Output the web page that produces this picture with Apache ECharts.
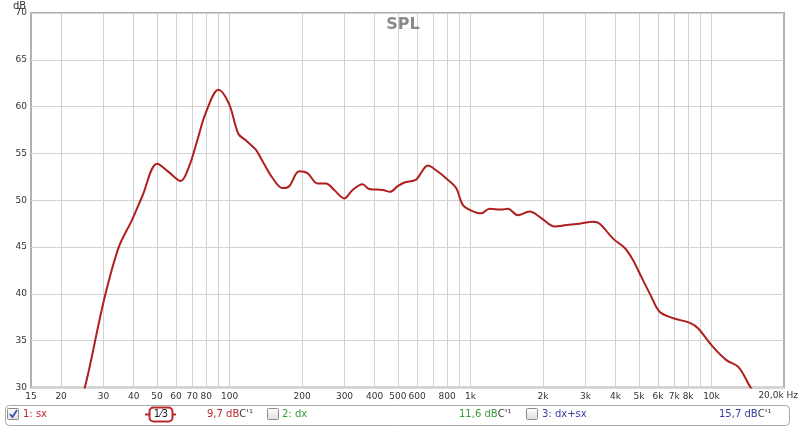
<!DOCTYPE html>
<html><head><meta charset="utf-8">
<script src="https://cdn.jsdelivr.net/npm/echarts@6/dist/echarts.min.js"></script>
<style>html,body{margin:0;padding:0;background:#fff}#c{width:800px;height:428px}</style>
</head><body><div id="c"></div>
<script>
// Frequency response (Hz) and SPL (dB)
const freqs = [24, 25.1, 30.1, 34.7, 39.4, 43.4, 50.1, 56.0, 62.7, 67.9, 73.5, 79.6, 90.0, 99.5, 108.8, 116.8, 128.5, 136.9, 150.6, 165.8, 176.8, 194.5, 210.6, 231.7, 251.2, 271.9, 299.3, 324.1, 356.5, 380.2, 431.7, 463.5, 498.7, 531.6, 594.7, 633.6, 664.7, 719.9, 804.5, 872, 929, 1007, 1108, 1199, 1342, 1429, 1573, 1758, 1967, 2235, 2500, 2839, 3225, 3437, 3905, 4367, 4729, 5030, 5630, 6090, 6960, 8140, 8810, 10100, 11570, 12920, 14450, 14900];
const spl = [29.2, 30.0, 39.3, 45.0, 47.9, 50.4, 53.9, 53.0, 52.05, 53.6, 56.4, 59.3, 61.8, 60.3, 57.1, 56.4, 55.4, 54.2, 52.4, 51.3, 51.5, 53.1, 52.9, 51.8, 51.8, 51.1, 50.2, 51.1, 51.7, 51.2, 51.1, 50.9, 51.5, 51.9, 52.2, 53.2, 53.7, 53.2, 52.2, 51.3, 49.5, 48.9, 48.6, 49.1, 49.0, 49.1, 48.4, 48.8, 48.1, 47.2, 47.35, 47.5, 47.7, 47.5, 45.9, 44.9, 43.6, 42.2, 39.7, 38.1, 37.4, 36.9, 36.3, 34.4, 32.9, 32.2, 30.1, 29.5];

// Axis ticks
const gridFreqs = [20,30,40,50,60,70,80,90,100,200,300,400,500,600,700,800,900,1000,2000,3000,4000,5000,6000,7000,8000,9000,10000];
const labelFreqs = [15,20,30,40,50,60,70,80,100,200,300,400,500,600,800,1000,2000,3000,4000,5000,6000,7000,8000,10000];
const labelTexts = ['15','20','30','40','50','60','70','80','100','200','300','400','500','600','800','1k','2k','3k','4k','5k','6k','7k','8k','10k'];
const xMinHz = 15, xMaxHz = 20000;
const yMin = 30, yMax = 70, yStep = 5;

// Legend texts
const legendNames = ['1: sx', '2: dx', '3: dx+sx'];
const legendValues = ['9,7 dB', '11,6 dB', '15,7 dB'];
const legendColors = ['#b8282c', '#3a9a3a', '#3a3aa6'];

const L = Math.log10;
const FONT = 'DejaVu Sans';
const chart = echarts.init(document.getElementById('c'));

function checkbox(x, y, checked) {
  const ch = [{type:'rect', shape:{x:x, y:y, width:11, height:11, r:1},
    style:{fill:new echarts.graphic.LinearGradient(0,0,0,1,[{offset:0,color:'#ffffff'},{offset:1,color:'#dedede'}]), stroke:'#8c8c8c', lineWidth:1}}];
  if (checked) ch.push({type:'polyline', shape:{points:[[x+2.5,y+5.5],[x+5,y+8.5],[x+9.5,y+1.5]]},
    style:{stroke:'#2f55a8', lineWidth:1.8, fill:null}});
  return ch;
}
function valText(x, txt, col) {
  return {type:'text', x:x, y:414, style:{text:'{a|'+txt+'}{b|C\'¹}', rich:{a:{fill:col, fontSize:10, fontFamily:FONT}, b:{fill:'#444', fontSize:10, fontFamily:FONT}}, verticalAlign:'middle'}};
}

const graphics = [
  {type:'rect', shape:{x:5.5, y:405.5, width:784, height:20, r:4}, style:{fill:'#fff', stroke:'#a8a8a8', lineWidth:1}},
  ...checkbox(7.5, 408.5, true),
  {type:'text', x:23, y:414, style:{text:legendNames[0], fill:legendColors[0], fontSize:10, fontFamily:FONT, verticalAlign:'middle'}},
  {type:'line', shape:{x1:145, y1:414.5, x2:176, y2:414.5}, style:{stroke:'#b8282c', lineWidth:2}},
  {type:'rect', shape:{x:149.5, y:407.5, width:23, height:14, r:4}, style:{fill:'#fff', stroke:'#b8282c', lineWidth:2}},
  {type:'text', x:161, y:414.5, style:{text:'1⁄3', fill:'#222', fontSize:10, fontFamily:FONT, align:'center', verticalAlign:'middle'}},
  valText(207, legendValues[0], legendColors[0]),
  ...checkbox(267.5, 408.5, false),
  {type:'text', x:282, y:414, style:{text:legendNames[1], fill:legendColors[1], fontSize:10, fontFamily:FONT, verticalAlign:'middle'}},
  valText(459, legendValues[1], legendColors[1]),
  ...checkbox(526.5, 408.5, false),
  {type:'text', x:542, y:414, style:{text:legendNames[2], fill:legendColors[2], fontSize:10, fontFamily:FONT, verticalAlign:'middle'}},
  valText(719, legendValues[2], legendColors[2]),
  {type:'text', x:798, y:396, style:{text:'20,0k Hz', fill:'#333', fontSize:9, fontFamily:FONT, align:'right', verticalAlign:'middle'}},
  {type:'text', x:13, y:6, style:{text:'dB', fill:'#333', fontSize:10, fontFamily:FONT, verticalAlign:'middle'}}
];

chart.setOption({
  animation: false,
  backgroundColor: '#fff',
  title: {text:'SPL', left:398, textAlign:'center', top:12, textStyle:{fontSize:16, fontWeight:'bold', color:'#8a8a8a', fontFamily:FONT}},
  grid: {left:31, right:16, top:13, bottom:40.5, show:true, borderColor:'#b0b0b0', borderWidth:2, backgroundColor:'#fff'},
  xAxis: {
    type:'value', min:L(xMinHz), max:L(xMaxHz),
    axisLine:{show:false},
    axisTick:{show:false, customValues: gridFreqs.map(L)},
    splitLine:{show:true, lineStyle:{color:'#d2d2d2', width:1}},
    axisLabel:{
      customValues: labelFreqs.map(L),
      formatter: function(v){
        let best = 0, bd = 1e9;
        labelFreqs.forEach((f,i)=>{ const d = Math.abs(L(f)-v); if (d<bd){bd=d;best=i;} });
        return labelTexts[best];
      },
      color:'#333', fontSize:9, fontFamily:FONT, margin:5, showMinLabel:true, showMaxLabel:true
    }
  },
  yAxis: {
    type:'value', min:yMin, max:yMax, interval:yStep,
    axisLine:{show:false}, axisTick:{show:false},
    splitLine:{show:true, lineStyle:{color:'#d2d2d2', width:1}},
    axisLabel:{color:'#333', fontSize:9, fontFamily:FONT, margin:4}
  },
  series: [{
    type:'line',
    data: freqs.map((f,i)=>[L(f), spl[i]]),
    smooth:0.35, showSymbol:false, clip:true,
    lineStyle:{color:'#b01e1e', width:2},
    z:5
  }],
  graphic: graphics
});
</script>
</body></html>
